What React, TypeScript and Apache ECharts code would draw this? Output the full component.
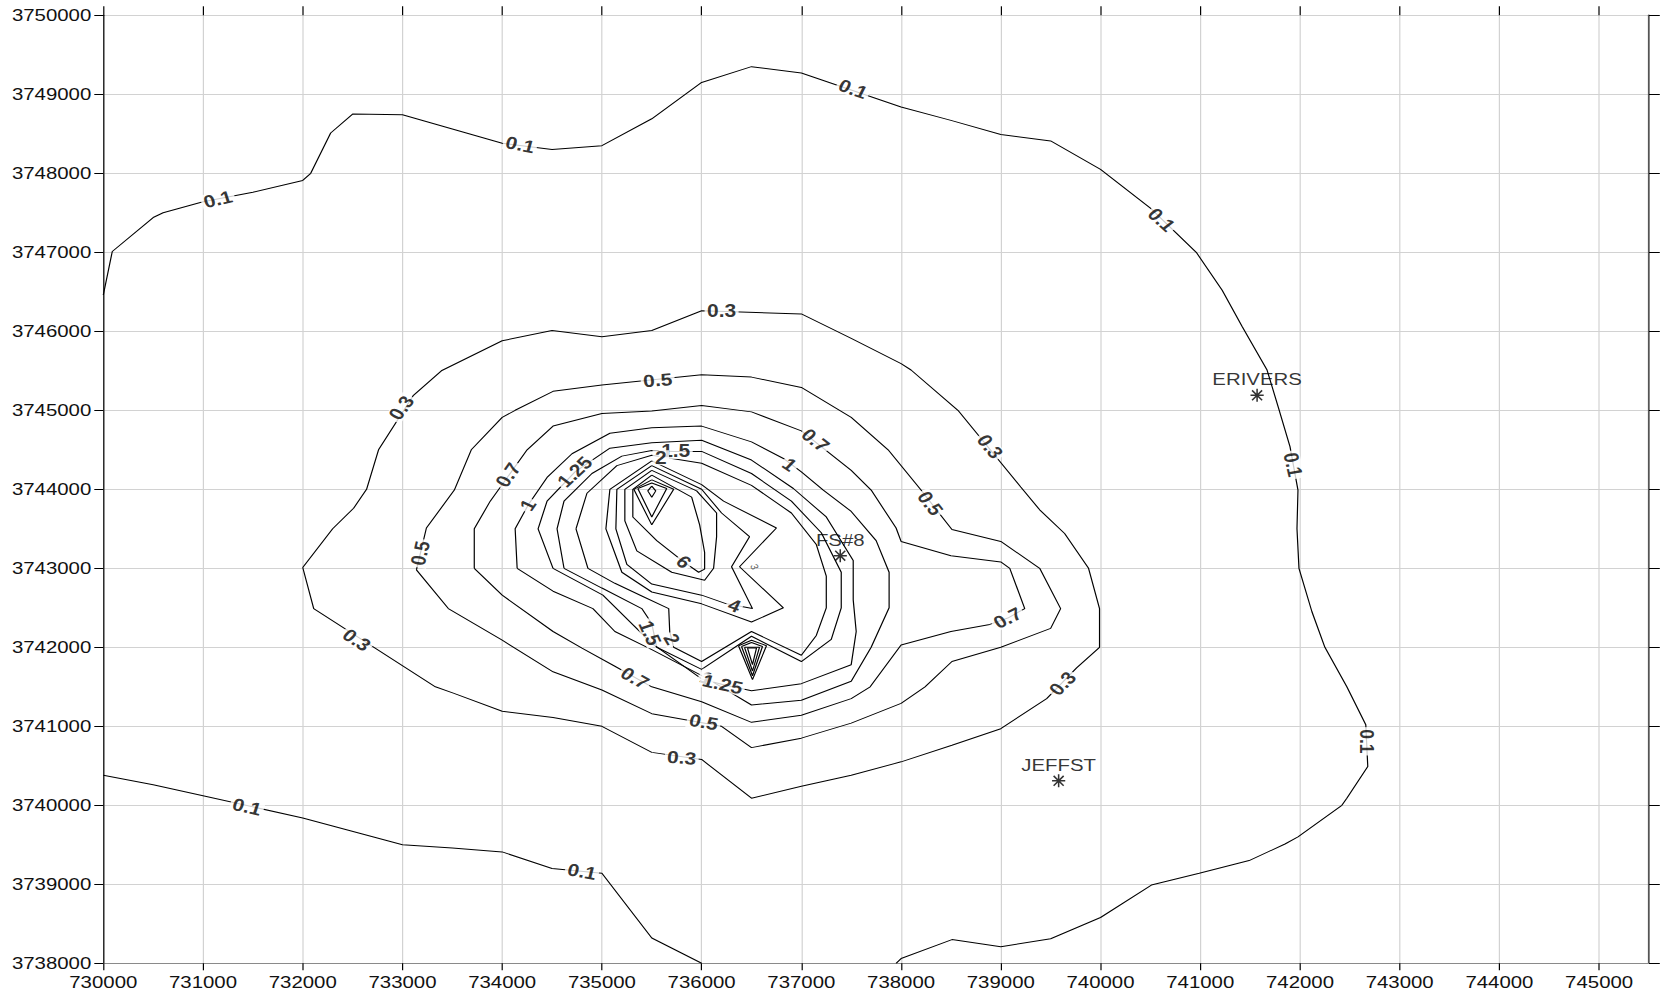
import { useEffect, useRef } from 'react';
import * as echarts from 'echarts';

// The reference image is horizontally stretched; we draw in an unstretched
// space and apply scaleX so text and marks get the same wide look.
const STRETCH = 1.2;
const FONT = "'Liberation Sans', Arial, Helvetica, sans-serif";

const xMin = 730000;
const xMax = 745500;
const yMin = 3738000;
const yMax = 3750000;

const xTicks = [730000, 731000, 732000, 733000, 734000, 735000, 736000, 737000, 738000, 739000, 740000, 741000, 742000, 743000, 744000, 745000];
const yTicks = [3738000, 3739000, 3740000, 3741000, 3742000, 3743000, 3744000, 3745000, 3746000, 3747000, 3748000, 3749000, 3750000];

// ---- contour polylines (x, y) ----
const c01North = [[730000,3746460],[730090,3747010],[730500,3747440],[730600,3747500],[731000,3747640],[731500,3747760],[732000,3747910],[732080,3748000],[732280,3748510],[732500,3748750],[733000,3748740],[733500,3748560],[734000,3748380],[734500,3748300],[735000,3748350],[735500,3748690],[736000,3749150],[736500,3749350],[737000,3749270],[738000,3748840],[738500,3748670],[739000,3748490],[739500,3748410],[740000,3748050],[740500,3747560],[740960,3747000],[741220,3746520],[741420,3746060],[741670,3745510],[741780,3745050],[741900,3744540],[741980,3743990],[741970,3743500],[741990,3743000],[742120,3742450],[742250,3742000],[742470,3741500],[742660,3741020],[742680,3740490],[742470,3740090],[742420,3740000],[741980,3739600],[741850,3739510],[741490,3739300],[740990,3739140],[740510,3738990],[740000,3738580],[739500,3738310],[739000,3738210],[738510,3738300],[738000,3738060],[737950,3738000]];
const c01South = [[730000,3740380],[730500,3740260],[731000,3740120],[732000,3739840],[733000,3739500],[733500,3739460],[734000,3739410],[734500,3739200],[735000,3739140],[735500,3738320],[736000,3738000]];
const c03 = [[732000,3743010],[732300,3743500],[732510,3743760],[732640,3744000],[732760,3744500],[733110,3745190],[733390,3745500],[734000,3745880],[734500,3746010],[735000,3745930],[735500,3746010],[736000,3746260],[737000,3746220],[737500,3745910],[738000,3745590],[738100,3745510],[738570,3745000],[739200,3744030],[739390,3743740],[739640,3743440],[739880,3743000],[739990,3742490],[739990,3742000],[739760,3741740],[739460,3741350],[739000,3740970],[738510,3740760],[738000,3740550],[737500,3740380],[737000,3740240],[736500,3740090],[736000,3740580],[735500,3740670],[735000,3741000],[734510,3741110],[734000,3741190],[733510,3741420],[733330,3741500],[732110,3742490],[732000,3743010]];
const c05 = [[733140,3742980],[733460,3742490],[734000,3742090],[734510,3741690],[735000,3741460],[735500,3741160],[736200,3741000],[736500,3740730],[737000,3740850],[737500,3741040],[738000,3741290],[738240,3741500],[738510,3741820],[739000,3742000],[739500,3742240],[739600,3742490],[739390,3743000],[739000,3743340],[738510,3743490],[738200,3743990],[737870,3744500],[737500,3744910],[737000,3745290],[736500,3745420],[736000,3745450],[735000,3745320],[734510,3745240],[734130,3745000],[734000,3744910],[733690,3744500],[733520,3743990],[733240,3743510],[733140,3742980]];
const c07 = [[733720,3743000],[733720,3743500],[733880,3743850],[734250,3744500],[734510,3744800],[735000,3744960],[735500,3744990],[736000,3745060],[736500,3744980],[737000,3744740],[737500,3744240],[737700,3743990],[737950,3743510],[738000,3743340],[738500,3743160],[739000,3743080],[739090,3743000],[739240,3742490],[739070,3742370],[738890,3742290],[738500,3742200],[738000,3742030],[737690,3741500],[737500,3741350],[737000,3741140],[736500,3741050],[736000,3741310],[735500,3741500],[735130,3741760],[734800,3741990],[734510,3742200],[734000,3742660],[733720,3743000]];
const c10 = [[734150,3743000],[734130,3743500],[734260,3743800],[734450,3744150],[734700,3744450],[735080,3744710],[735500,3744780],[736000,3744800],[736500,3744600],[736820,3744390],[737000,3744220],[737220,3743990],[737500,3743720],[737750,3743350],[737880,3742950],[737880,3742500],[737700,3742000],[737500,3741570],[737000,3741330],[736500,3741270],[736050,3741610],[735500,3741970],[735130,3742200],[734910,3742490],[734510,3742710],[734150,3743000]];
const c125 = [[734510,3743000],[734360,3743500],[734450,3743850],[734730,3744220],[735080,3744520],[735500,3744590],[736000,3744620],[736500,3744370],[736920,3744010],[737250,3743650],[737520,3743100],[737520,3742600],[737550,3742200],[737500,3741780],[737000,3741540],[736500,3741450],[736210,3741530],[736000,3741600],[735500,3742050],[735010,3742660],[734510,3743000]];
const c15 = [[734620,3743000],[734550,3743500],[734620,3743850],[734900,3744200],[735200,3744420],[735500,3744490],[735720,3744480],[736000,3744480],[736500,3744200],[736900,3743850],[737200,3743450],[737400,3742950],[737400,3742500],[737300,3742100],[737000,3741820],[736500,3742140],[736000,3741720],[735550,3742000],[735500,3742300],[735400,3742490],[735000,3742750],[734620,3743000]];
const c20 = [[734740,3743500],[734850,3743950],[735150,3744300],[735500,3744430],[736000,3744330],[736500,3744050],[736900,3743700],[737150,3743300],[737250,3742900],[737250,3742500],[737150,3742150],[737000,3741900],[736500,3742200],[736000,3741820],[735720,3742000],[735680,3742200],[735670,3742490],[735400,3742650],[735130,3742810],[734860,3743000],[734740,3743500]];
const c30 = [[735500,3744360],[736000,3744060],[736220,3743850],[736750,3743510],[736380,3743020],[736820,3742500],[736500,3742320],[736000,3742550],[735500,3742700],[735200,3742950],[735040,3743500],[735080,3744000],[735500,3744360]];
const c40 = [[735500,3744300],[736000,3744000],[736200,3743700],[736480,3743400],[736300,3743020],[736510,3742490],[736250,3742550],[736000,3742660],[735500,3742800],[735250,3743050],[735140,3743500],[735150,3744000],[735500,3744300]];
const c50 = [[735500,3744240],[735950,3743980],[736150,3743700],[736150,3743400],[736120,3743000],[736030,3742850],[735700,3742950],[735350,3743220],[735230,3743600],[735230,3744000],[735500,3744240]];
const c60 = [[735500,3744180],[735900,3743900],[735980,3743550],[736030,3743200],[736030,3742990],[735970,3742950],[735820,3743080],[735550,3743350],[735310,3743650],[735310,3744000],[735500,3744180]];
const c70 = [[735500,3744120],[735320,3744000],[735500,3743550],[735720,3744000],[735500,3744120]];
const c80 = [[735360,3744010],[735500,3744080],[735650,3744010],[735500,3743650],[735360,3744010]];
const c90 = [[735500,3744040],[735460,3743980],[735500,3743900],[735540,3743980],[735500,3744040]];
const spike1 = [[736370,3742020],[736500,3742090],[736650,3742020],[736510,3741590],[736370,3742020]];
const spike2 = [[736400,3742010],[736500,3742060],[736610,3742010],[736510,3741640],[736400,3742010]];
const spike3 = [[736430,3742000],[736580,3742000],[736510,3741700],[736430,3742000]];
const spike4 = [[736460,3741990],[736550,3741990],[736510,3741780],[736460,3741990]];

const contourLines = [c01North, c01South, c03, c05, c07, c10, c125, c15, c20, c30, c40, c50, c60, c70, c80, c90, spike1, spike2, spike3, spike4];

// contour labels: x, y, text, angle
const contourLabels: [number, number, string, number][] = [
  [731150, 3747670, '0.1', 15],
  [734180, 3748360, '0.1', -13],
  [737520, 3749070, '0.1', -23],
  [740610, 3747410, '0.1', -47],
  [741930, 3744310, '0.1', -79],
  [742670, 3740810, '0.1', -90],
  [731440, 3739980, '0.1', -15],
  [734800, 3739160, '0.1', -12],
  [732990, 3745030, '0.3', 58],
  [736200, 3746250, '0.3', 0],
  [738890, 3744540, '0.3', -55],
  [739620, 3741540, '0.3', 50],
  [735800, 3740600, '0.3', -5],
  [732540, 3742090, '0.3', -38],
  [735560, 3745380, '0.5', 5],
  [738290, 3743820, '0.5', -57],
  [736020, 3741050, '0.5', -12],
  [733180, 3743190, '0.5', 79],
  [734060, 3744180, '0.7', 59],
  [737140, 3744620, '0.7', -43],
  [739070, 3742370, '0.7', 30],
  [735330, 3741610, '0.7', -34],
  [734260, 3743800, '1', 60],
  [736880, 3744310, '1', -39],
  [736050, 3741610, '1', -25],
  [734730, 3744220, '1.25', 48],
  [736210, 3741530, '1.25', -15],
  [735740, 3744480, '1.5', 0],
  [735480, 3742180, '1.5', -69],
  [735590, 3744400, '2', 0],
  [735700, 3742100, '2', -64],
  [736330, 3742530, '4', -23],
  [735820, 3743080, '6', -45],
];
const tinyLabels: [number, number, string, number][] = [[736530, 3743020, '3', -70]];

const stationNames = ['ERIVERS', 'FS#8', 'JEFFST'];
const stationX = [741570, 737390, 739580];
const stationY = [3745190, 3743160, 3740310];

const PLOT_LEFT = 103.3;
const PLOT_RIGHT = 1649;
const PLOT_TOP = 15.3;
const PLOT_BOTTOM = 963.3;

export default function App() {
  const ref = useRef<HTMLDivElement>(null);
  useEffect(() => {
    if (!ref.current) return;
    const chart = echarts.init(ref.current, undefined, { renderer: 'svg' });
    const gridColor = '#d2d2d2';
    const fmt = (v: number) => String(v);
    const option: any = {
      animation: false,
      backgroundColor: '#ffffff',
      grid: {
        left: PLOT_LEFT / STRETCH,
        top: PLOT_TOP,
        width: (PLOT_RIGHT - PLOT_LEFT) / STRETCH,
        height: PLOT_BOTTOM - PLOT_TOP,
      },
      xAxis: [
        {
          type: 'value', position: 'bottom', min: xMin, max: xMax, interval: 500,
          axisLine: { show: true, lineStyle: { color: '#8a8a8a', width: 1 } },
          axisTick: { show: true, customValues: xTicks, length: 7, lineStyle: { color: '#000' } },
          axisLabel: { show: true, customValues: xTicks, formatter: fmt, fontFamily: FONT, fontSize: 17, color: '#111', margin: 10 },
          splitLine: { show: true, lineStyle: { color: gridColor, width: 1 } },
        },
        {
          type: 'value', position: 'top', min: xMin, max: xMax, interval: 500,
          axisLine: { show: false },
          axisTick: { show: true, customValues: xTicks, length: 9, lineStyle: { color: '#000' } },
          axisLabel: { show: false },
          splitLine: { show: false },
        },
      ],
      yAxis: [
        {
          type: 'value', position: 'left', min: yMin, max: yMax, interval: 500,
          axisLine: { show: true, lineStyle: { color: '#000', width: 1 } },
          axisTick: { show: true, customValues: yTicks, length: 7.5, lineStyle: { color: '#000' } },
          axisLabel: { show: true, customValues: yTicks, formatter: fmt, fontFamily: FONT, fontSize: 17, color: '#111', margin: 10 },
          splitLine: { show: true, lineStyle: { color: gridColor, width: 1 } },
        },
        {
          type: 'value', position: 'right', min: yMin, max: yMax, interval: 500,
          axisLine: { show: true, lineStyle: { color: '#555', width: 1.5 } },
          axisTick: { show: true, customValues: yTicks, length: 9, lineStyle: { color: '#000' } },
          axisLabel: { show: false },
          splitLine: { show: false },
        },
      ],
      series: [
        ...contourLines.map((data) => ({
          type: 'line',
          data,
          xAxisIndex: 0,
          yAxisIndex: 0,
          showSymbol: false,
          symbol: 'none',
          smooth: false,
          silent: true,
          z: 2,
          lineStyle: { color: '#000', width: 1 },
        })),
        {
          type: 'scatter',
          silent: true,
          z: 5,
          symbolSize: 1,
          itemStyle: { color: 'rgba(0,0,0,0)' },
          data: contourLabels.map(([x, y, t, a]) => ({ value: [x, y], name: t, label: { rotate: a } })),
          label: {
            show: true, position: 'inside', formatter: '{b}', fontFamily: FONT, fontWeight: 'bold',
            fontSize: 17.5, color: '#000', backgroundColor: '#ffffff', padding: [0, 2, 0, 2], lineHeight: 15,
          },
        },
        {
          type: 'scatter',
          silent: true,
          z: 5,
          symbolSize: 1,
          itemStyle: { color: 'rgba(0,0,0,0)' },
          data: tinyLabels.map(([x, y, t, a]) => ({ value: [x, y], name: t, label: { rotate: a } })),
          label: { show: true, position: 'inside', formatter: '{b}', fontFamily: FONT, fontSize: 9, color: '#333' },
        },
        {
          type: 'scatter',
          silent: true,
          z: 6,
          symbol: 'path://M5 0L5 10M0 5L10 5M1.2 1.2L8.8 8.8M1.2 8.8L8.8 1.2',
          symbolSize: [11, 13],
          itemStyle: { color: 'rgba(0,0,0,0)', borderColor: '#000', borderWidth: 1.4 },
          data: stationX.map((x, i) => ({ value: [x, stationY[i]], name: stationNames[i] })),
          label: {
            show: true, position: 'inside', offset: [0, -16], formatter: '{b}',
            fontFamily: FONT, fontSize: 17, color: '#000',
          },
        },
      ],
    };
    chart.setOption(option);
    return () => chart.dispose();
  }, []);

  return (
    <div
      ref={ref}
      style={{
        position: 'absolute',
        left: 0,
        top: 0,
        width: Math.ceil(1666 / STRETCH) + 'px',
        height: '991px',
        transform: `scaleX(${STRETCH})`,
        transformOrigin: '0 0',
      }}
    />
  );
}
